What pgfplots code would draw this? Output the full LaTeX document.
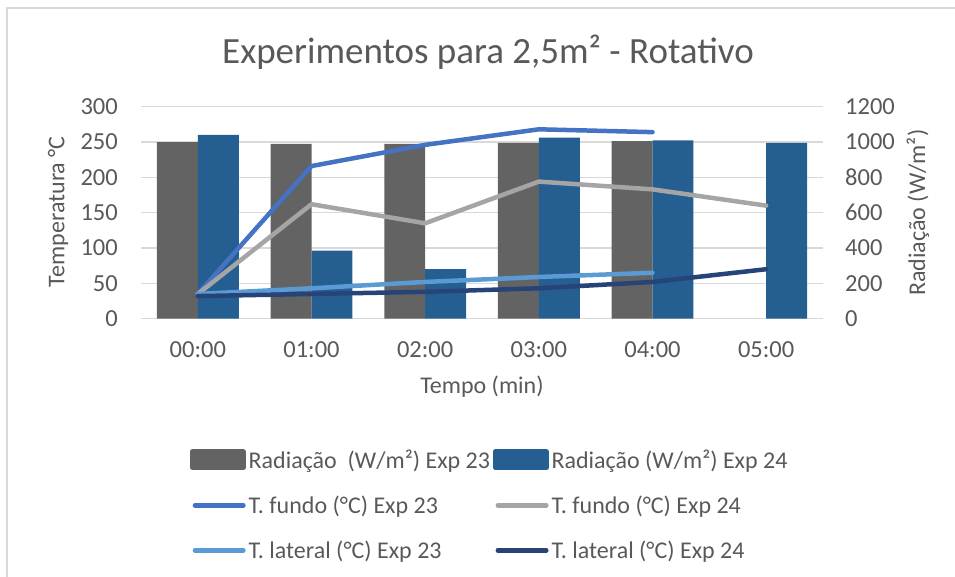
\documentclass[border=0pt]{standalone}
\usepackage{fontspec}
\setmainfont{Carlito}
\usepackage{pgfplots}
\pgfplotsset{compat=1.18}
\definecolor{txt}{HTML}{595959}
\definecolor{gridc}{HTML}{D9D9D9}
\definecolor{barA}{HTML}{636363}
\definecolor{barB}{HTML}{255E91}
\definecolor{fA}{HTML}{4472C4}
\definecolor{fB}{HTML}{A5A5A5}
\definecolor{lA}{HTML}{5B9BD5}
\definecolor{lB}{HTML}{264478}
\pgfplotsset{base/.style={
  scale only axis, width=682pt, height=212pt,
  at={(141pt,258.3pt)}, anchor=south west,
  xmin=-0.5, xmax=5.5, xtick={0,...,5},
  axis line style={draw=none}, major tick length=0pt,
  /pgf/number format/assume math mode=true,
  /pgf/number format/1000 sep={},
  tick label style={font=\fontsize{24.5}{28}\selectfont, text=txt, inner sep=0pt},
  label style={font=\fontsize{24}{28}\selectfont, text=txt},
}}
\begin{document}
\begin{tikzpicture}[x=1pt,y=1pt]
\path[use as bounding box] (0,0) rectangle (955,577);
\draw[draw=gridc, line width=1.5pt] (7,0) -- (7,569) -- (955,569);
\node[text=txt, font=\fontsize{37}{44}\selectfont] at (488,525) {Experimentos para 2,5m² - Rotativo};

% bars on the right axis
\begin{axis}[base,
  ymin=0, ymax=1200, ytick={0,200,...,1200},
  axis y line*=right, xticklabels={},
  ymajorgrids, grid style={draw=gridc, line width=1.3pt},
  yticklabel style={anchor=west, xshift=22pt},
  ylabel={Radiação (W/m²)},
  ylabel style={at={(axis description cs:1.1393,0.5)}, anchor=center},
  ybar, bar width=0.36,
]
\addplot[fill=barA, draw=none, bar shift=-0.18] coordinates {(0,1000) (1,990) (2,990) (3,995) (4,1005)};
\addplot[fill=barB, draw=none, bar shift=0.18] coordinates {(0,1040) (1,385) (2,280) (3,1025) (4,1010) (5,995)};
\end{axis}

% temperature lines on the left axis
\begin{axis}[base,
  ymin=0, ymax=300, ytick={0,50,...,300},
  axis y line*=left,
  xticklabels={00:00,01:00,02:00,03:00,04:00,05:00},
  xticklabel style={anchor=center, yshift=-31pt},
  yticklabel style={anchor=east, xshift=-23pt},
  xlabel={Tempo (min)},
  xlabel style={at={(axis description cs:0.5,-0.322)}, anchor=center},
  ylabel={Temperatura °C},
  ylabel style={at={(axis description cs:-0.1217,0.505)}, anchor=center},
  every axis plot/.append style={line width=4.5pt, line cap=round, line join=round},
  legend columns=2,
  legend image code/.code={\draw[#1] (2.5pt,0pt) -- (51pt,0pt);},
  legend style={draw=none, fill=none, at={(axis description cs:0.0718,-0.603)}, anchor=north west,
    font=\fontsize{24}{28}\selectfont, text=txt, row sep=20pt, inner sep=0pt,
    nodes={inner sep=3pt}},
  legend cell align=left,
]
\addlegendimage{legend image code/.code={\fill[barA] (0pt,-8pt) rectangle (51pt,8pt);}}
\addlegendentry{Radiação\ \ (W/m²) Exp 23}
\addlegendimage{legend image code/.code={\fill[barB] (0pt,-8pt) rectangle (51pt,8pt);}}
\addlegendentry{Radiação (W/m²) Exp 24}
\addplot[color=fA] coordinates {(0,35) (1,216) (2,246) (3,268) (4,264)};
\addlegendentry{T. fundo (°C) Exp 23}
\addplot[color=fB] coordinates {(0,35) (1,162) (2,135) (3,194) (4,183) (5,160)};
\addlegendentry{T. fundo (°C) Exp 24}
\addplot[color=lA] coordinates {(0,35) (1,43) (2,52) (3,59) (4,65)};
\addlegendentry{T. lateral (°C) Exp 23}
\addplot[color=lB] coordinates {(0,32) (1,35) (2,38) (3,43) (4,52) (5,70)};
\addlegendentry{T. lateral (°C) Exp 24}
\end{axis}
\end{tikzpicture}
\end{document}
